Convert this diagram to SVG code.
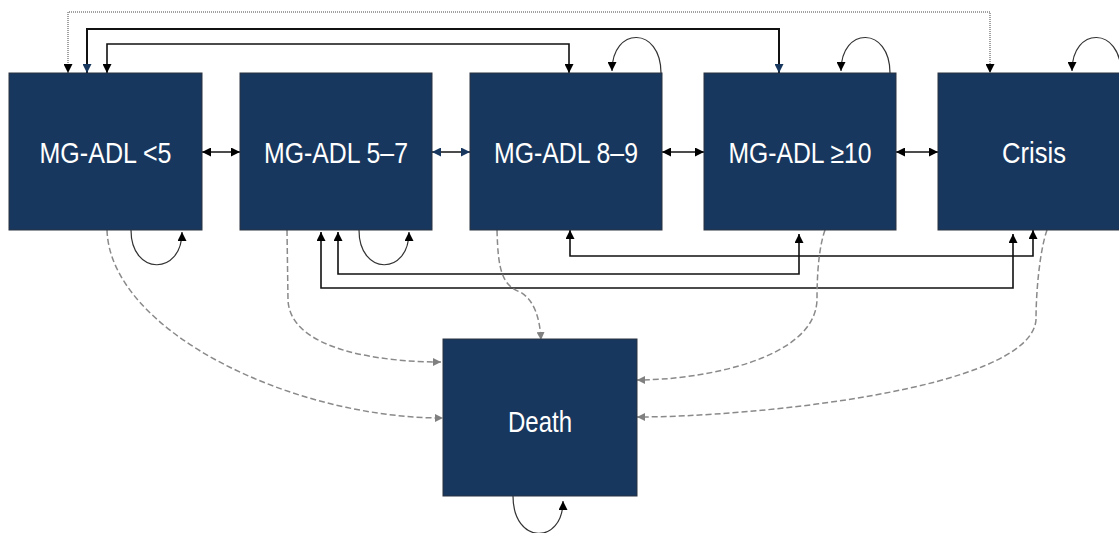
<svg xmlns="http://www.w3.org/2000/svg" width="1119" height="533" viewBox="0 0 1119 533">
<defs>
<style>
.box{fill:#18375e;stroke:#2a3340;stroke-width:1}
.lbl{font-family:"Liberation Sans",Arial,sans-serif;font-size:29px;fill:#ffffff;text-anchor:middle}
.solid{fill:none;stroke:#111;stroke-width:1.6}
.thick{fill:none;stroke:#111;stroke-width:2}
.dot{fill:none;stroke:#444;stroke-width:1;stroke-dasharray:1 1}
.loop{fill:none;stroke:#333;stroke-width:1.2}
.dash{fill:none;stroke:#8a8a8a;stroke-width:1.5;stroke-dasharray:6 3}
</style>
<marker id="ab" viewBox="0 0 10 10" refX="10" refY="5" markerWidth="9" markerHeight="9" markerUnits="userSpaceOnUse" orient="auto-start-reverse"><path d="M0,0 L10,5 L0,10 z" fill="#000"/></marker>
<marker id="an" viewBox="0 0 10 10" refX="10" refY="5" markerWidth="9" markerHeight="9" markerUnits="userSpaceOnUse" orient="auto-start-reverse"><path d="M0,0 L10,5 L0,10 z" fill="#18375e"/></marker>
<marker id="ag" viewBox="0 0 10 10" refX="10" refY="5" markerWidth="8" markerHeight="8" markerUnits="userSpaceOnUse" orient="auto-start-reverse"><path d="M0,0 L10,5 L0,10 z" fill="#808080"/></marker>
</defs>
<rect width="1119" height="533" fill="#ffffff"/>
<g id="connectors">
<path class="dot" d="M68,73 V12 H990 V73" marker-start="url(#ab)" marker-end="url(#ab)"/>
<path class="thick" d="M87,73 V29 H779 V73" marker-start="url(#an)" marker-end="url(#an)"/>
<path class="solid" d="M107,73 V44 H569 V73" marker-start="url(#ab)" marker-end="url(#ab)"/>
<path class="loop" d="M661,73 C661,26 612,26 612,71" marker-end="url(#ab)"/>
<path class="loop" d="M890,73 C890,26 841,26 841,71" marker-end="url(#ab)"/>
<path class="loop" d="M1121,73 C1121,26 1072,26 1072,71" marker-end="url(#ab)"/>
<path class="loop" d="M131,230 C131,276 182,276 182,232" marker-end="url(#ab)"/>
<path class="loop" d="M359,230 C359,276 409,276 409,232" marker-end="url(#ab)"/>
<path class="loop" d="M513,496 C513,545 563,545 563,501" marker-end="url(#ab)"/>
<path class="solid" d="M202,152 H240" marker-start="url(#ab)" marker-end="url(#ab)"/>
<path class="solid" d="M432,152 H470" marker-start="url(#an)" marker-end="url(#an)"/>
<path class="solid" d="M662,152 H704" marker-start="url(#ab)" marker-end="url(#ab)"/>
<path class="solid" d="M896,152 H938" marker-start="url(#ab)" marker-end="url(#ab)"/>
<path class="solid" d="M570,230 V256 H1033 V230" marker-start="url(#ab)" marker-end="url(#ab)"/>
<path class="solid" d="M338,232 V274 H799 V234" marker-start="url(#ab)" marker-end="url(#ab)"/>
<path class="solid" d="M321,232 V288 H1013 V234" marker-start="url(#ab)" marker-end="url(#ab)"/>
<path class="dash" d="M107,230 C110,330 290,418 443,418" marker-end="url(#ag)"/>
<path class="dash" d="M287,230 L288,300 C290,350 380,362 441,362" marker-end="url(#ag)"/>
<path class="dash" d="M497,230 C498,270 502,285 520,292 C535,300 540,320 541,340" marker-end="url(#ag)"/>
<path class="dash" d="M825,230 C818,250 817,280 817,300 C815,360 700,380 637,380" marker-end="url(#ag)"/>
<path class="dash" d="M1047,230 C1040,250 1036,290 1036,320 C1030,390 750,417 637,417" marker-end="url(#ag)"/>
</g>
<g id="node-adl-lt5"><rect class="box" x="9" y="73" width="193" height="157"/><text class="lbl" x="105.5" y="163" textLength="132" lengthAdjust="spacingAndGlyphs">MG-ADL &lt;5</text></g>
<g id="node-adl-5-7"><rect class="box" x="240" y="73" width="192" height="157"/><text class="lbl" x="336" y="163" textLength="144" lengthAdjust="spacingAndGlyphs">MG-ADL 5–7</text></g>
<g id="node-adl-8-9"><rect class="box" x="470" y="73" width="192" height="157"/><text class="lbl" x="566" y="163" textLength="144" lengthAdjust="spacingAndGlyphs">MG-ADL 8–9</text></g>
<g id="node-adl-ge10"><rect class="box" x="704" y="73" width="192" height="157"/><text class="lbl" x="800" y="163" textLength="143" lengthAdjust="spacingAndGlyphs">MG-ADL ≥10</text></g>
<g id="node-crisis"><rect class="box" x="938" y="73" width="192" height="157"/><text class="lbl" x="1034" y="163" textLength="64" lengthAdjust="spacingAndGlyphs">Crisis</text></g>
<g id="node-death"><rect class="box" x="443" y="339" width="194" height="157"/><text class="lbl" x="540" y="432" textLength="64" lengthAdjust="spacingAndGlyphs">Death</text></g>
</svg>
